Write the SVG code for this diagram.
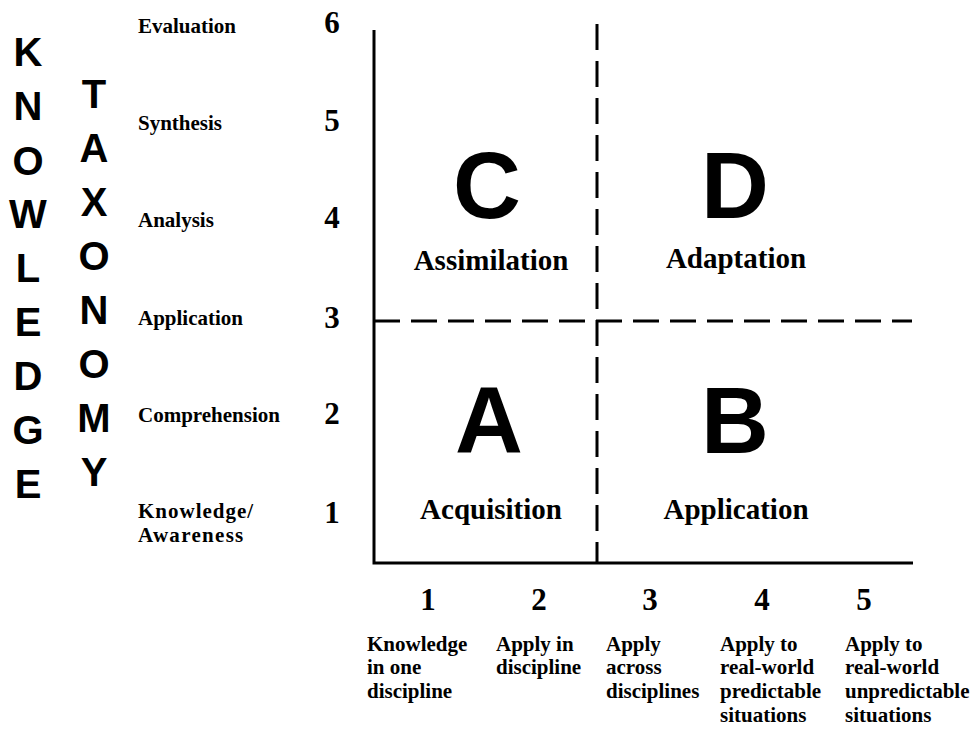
<svg xmlns="http://www.w3.org/2000/svg" width="975" height="733" viewBox="0 0 975 733">
<style>
.big{font-family:"Liberation Sans",Arial,sans-serif;font-weight:bold;fill:#000;text-anchor:middle}
.vl{font-size:40px}
.q{font-size:94px}
.s{font-family:"Liberation Serif","Times New Roman",serif;font-weight:bold;fill:#000}
.lab{font-size:21px}
.num{font-size:31px;text-anchor:middle}
.ql{font-size:29px;text-anchor:middle}
.axis{stroke:#000;stroke-width:3;fill:none}
.dash{stroke:#000;stroke-width:3;fill:none;stroke-dasharray:26 11}
</style>
<rect width="975" height="733" fill="#fff"/>
<g id="knowledge-title" class="big vl">
<text x="28" y="66">K</text><text x="28" y="120">N</text><text x="28" y="175">O</text><text x="28" y="228">W</text><text x="28" y="282">L</text><text x="28" y="336">E</text><text x="28" y="390">D</text><text x="28" y="444">G</text><text x="28" y="498">E</text>
</g>
<g id="taxonomy-title" class="big vl">
<text x="94" y="108">T</text><text x="94" y="162">A</text><text x="94" y="216">X</text><text x="94" y="270">O</text><text x="94" y="324">N</text><text x="94" y="378">O</text><text x="94" y="432">M</text><text x="94" y="486">Y</text>
</g>
<g id="y-labels" class="s lab">
<text x="138" y="33">Evaluation</text>
<text x="138" y="130">Synthesis</text>
<text x="138" y="227">Analysis</text>
<text x="138" y="325">Application</text>
<text x="138" y="422">Comprehension</text>
<text x="138" y="518" letter-spacing="1">Knowledge/</text>
<text x="138" y="542" letter-spacing="1.3">Awareness</text>
</g>
<g id="y-numbers" class="s num">
<text x="332" y="33">6</text>
<text x="332" y="131">5</text>
<text x="332" y="228">4</text>
<text x="332" y="328">3</text>
<text x="332" y="424">2</text>
<text x="332" y="523">1</text>
</g>
<g id="connectors">
<path class="axis" d="M374,30 V563 H913"/>
<line class="dash" x1="597" y1="24" x2="597" y2="563"/>
<line class="dash" x1="374" y1="321" x2="912" y2="321"/>
</g>
<g id="quadrant-C">
<text class="big q" x="487" y="218">C</text>
<text class="s ql" x="491" y="270">Assimilation</text>
</g>
<g id="quadrant-D">
<text class="big q" x="735" y="218">D</text>
<text class="s ql" x="736" y="268">Adaptation</text>
</g>
<g id="quadrant-A">
<text class="big q" x="489" y="453">A</text>
<text class="s ql" x="491" y="519">Acquisition</text>
</g>
<g id="quadrant-B">
<text class="big q" x="735" y="453">B</text>
<text class="s ql" x="736" y="519">Application</text>
</g>
<g id="x-numbers" class="s num">
<text x="428" y="610">1</text>
<text x="539" y="610">2</text>
<text x="650" y="610">3</text>
<text x="762" y="610">4</text>
<text x="864" y="610">5</text>
</g>
<g id="x-labels" class="s lab">
<text x="367" y="651">Knowledge</text>
<text x="367" y="674">in one</text>
<text x="367" y="698">discipline</text>
<text x="496" y="651">Apply in</text>
<text x="496" y="674">discipline</text>
<text x="606" y="651">Apply</text>
<text x="606" y="674">across</text>
<text x="606" y="698">disciplines</text>
<text x="720" y="651">Apply to</text>
<text x="720" y="674">real-world</text>
<text x="720" y="698">predictable</text>
<text x="720" y="722">situations</text>
<text x="845" y="651">Apply to</text>
<text x="845" y="674">real-world</text>
<text x="845" y="698">unpredictable</text>
<text x="845" y="722">situations</text>
</g>
</svg>
